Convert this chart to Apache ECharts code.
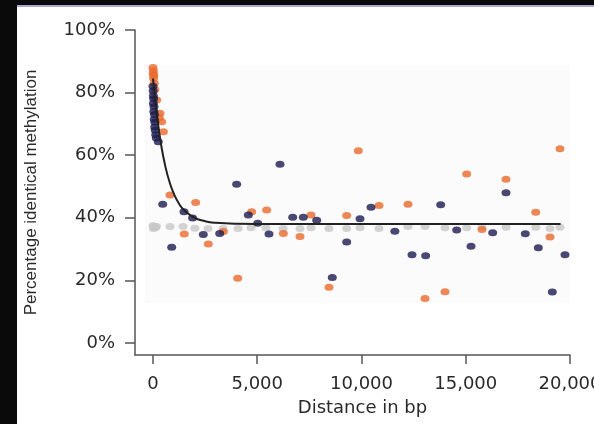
<!DOCTYPE html>
<html>
<head>
<meta charset="utf-8">
<script src="https://cdn.jsdelivr.net/npm/echarts@6.0.0/dist/echarts.min.js"></script>
<style>
html,body{margin:0;padding:0;background:#fff;}
#chart{width:594px;height:424px;}
</style>
</head>
<body>
<div id="chart"></div>
<script>
// ---- data ----
const xTicks = [0, 5000, 10000, 15000, 20000];
const yTicks = [0, 20, 40, 60, 80, 100];

// orange series [distance bp, % identical]
const orangePoints = [
  [0,88],[20,87],[10,86],[40,85.5],[30,84.5],[60,83],[90,81],[177,77.6],[335,73.4],[300,72],[417,70.7],[500,67.5],
  [815,47.3],[1500,34.8],[2046,44.9],[2653,31.6],[3373,35.6],[4062,20.7],[4733,41.9],[5452,42.5],
  [6251,35.0],[7050,34.0],[7578,40.9],[8441,17.8],[9290,40.7],[9847,61.4],[10840,43.9],[12230,44.3],
  [13046,14.2],[14005,16.4],[15045,54.0],[15779,36.3],[16931,52.3],[18355,41.8],[19041,33.9],[19520,62.1]
];
// navy series
const navyPoints = [
  [0,82],[10,80.5],[20,79],[30,78],[20,76.5],[50,75.5],[40,74],[70,73],[60,71.5],[90,70.5],[80,69],
  [110,68],[130,66.5],[160,65.5],[254,64.3],
  [465,44.3],[897,30.6],[1487,41.9],[1900,39.9],[2413,34.7],[3200,35.0],[4013,50.7],[4573,40.9],
  [5022,38.3],[5564,34.8],[6091,57.1],[6700,40.2],[7209,40.2],[7851,39.2],[8600,20.9],[9290,32.3],
  [9928,39.7],[10456,43.4],[11600,35.7],[12422,28.2],[13078,27.9],[13798,44.2],[14566,36.1],
  [15252,30.9],[16292,35.2],[16931,48.0],[17856,34.9],[18480,30.4],[19151,16.3],[19760,28.2]
];
// gray (control) series
const grayPoints = [
  [0,37.5],[40,37.0],[80,37.3],[120,36.8],[20,36.6],[160,37.2],
  [815,37.2],[1440,37.2],[2010,36.7],[2640,36.6],[3360,36.6],[4080,36.6],[4700,36.8],[5420,36.8],
  [6240,36.6],[7050,36.6],[7580,36.8],[8440,36.6],[9290,36.6],[9930,36.8],[10840,36.6],[12230,37.2],
  [13046,37.2],[14005,36.8],[15045,36.8],[15779,37.0],[16931,37.0],[18355,37.0],[19041,36.6],[19520,37.0]
];
// fitted decay curve
const fitX = [0, 200, 400, 600, 800, 1000, 1250, 1500, 2000, 2500, 3000, 4000, 6000, 10000, 15000, 19550];
const fitY = [84.5, 72.0, 62.9, 56.2, 51.3, 47.7, 44.5, 42.4, 40.0, 38.9, 38.4, 38.1, 38.0, 38.0, 38.0, 38.0];

const fitLine = fitX.map((x, i) => [x, fitY[i]]);

const chart = echarts.init(document.getElementById('chart'), null, {renderer: 'canvas'});
const axisColor = '#555';
const textColor = '#2a2a2a';
const fmtNum = v => String(v).replace(/\B(?=(\d{3})+(?!\d))/g, ',');

chart.setOption({
  animation: false,
  backgroundColor: '#fff',
  graphic: [
    {type: 'rect', z: -10, shape: {x: 145, y: 65, width: 425, height: 238}, style: {fill: '#fbfbfb'}},
    {type: 'rect', z: 100, shape: {x: 0, y: 0, width: 17, height: 424}, style: {fill: '#0a0a0a'}},
    {type: 'rect', z: 100, shape: {x: 17, y: 0, width: 577, height: 5}, style: {fill: '#0a0a0a'}},
    {type: 'rect', z: 100, shape: {x: 17, y: 5, width: 577, height: 2}, style: {fill: '#a9a9cf'}}
  ],
  grid: {left: 135, right: 24, top: 30, bottom: 69, containLabel: false, outerBoundsMode: 'none'},
  xAxis: {
    type: 'value', min: -863, max: 20000,
    name: 'Distance in bp', nameLocation: 'middle', nameGap: 44,
    nameTextStyle: {fontFamily: 'DejaVu Sans', fontSize: 18, color: textColor, padding: [0, 0, 0, 20]},
    axisLine: {show: true, onZero: false, lineStyle: {color: axisColor, width: 1.5}},
    axisTick: {show: true, length: 9, customValues: xTicks, lineStyle: {color: axisColor, width: 1.5}},
    axisLabel: {customValues: xTicks, margin: 20, fontFamily: 'DejaVu Sans', fontSize: 18, color: textColor, formatter: v => fmtNum(v), hideOverlap: false},
    splitLine: {show: false}
  },
  yAxis: {
    type: 'value', min: -3.83, max: 100,
    name: 'Percentage identical methylation', nameLocation: 'middle', nameGap: 95,
    nameTextStyle: {fontFamily: 'Liberation Sans', fontSize: 17, color: textColor},
    axisLine: {show: true, onZero: false, lineStyle: {color: axisColor, width: 1.5}},
    axisTick: {show: true, length: 10, customValues: yTicks, lineStyle: {color: axisColor, width: 1.5}},
    axisLabel: {customValues: yTicks, margin: 20, fontFamily: 'DejaVu Sans', fontSize: 18, color: textColor, formatter: v => v + '%'},
    splitLine: {show: false}
  },
  series: [
    {type: 'scatter', data: grayPoints, symbol: 'circle', symbolSize: [9, 7], itemStyle: {color: '#c8c8c8'}, z: 2},
    {type: 'scatter', data: orangePoints, symbol: 'circle', symbolSize: [9, 7], itemStyle: {color: '#ea6a2c'}, z: 3},
    {type: 'scatter', data: navyPoints, symbol: 'circle', symbolSize: [9, 7], itemStyle: {color: '#1c1b50'}, z: 4},
    {type: 'line', data: fitLine, smooth: true, showSymbol: false, symbol: 'none', lineStyle: {color: '#222', width: 2}, z: 5}
  ]
});
</script>
</body>
</html>
